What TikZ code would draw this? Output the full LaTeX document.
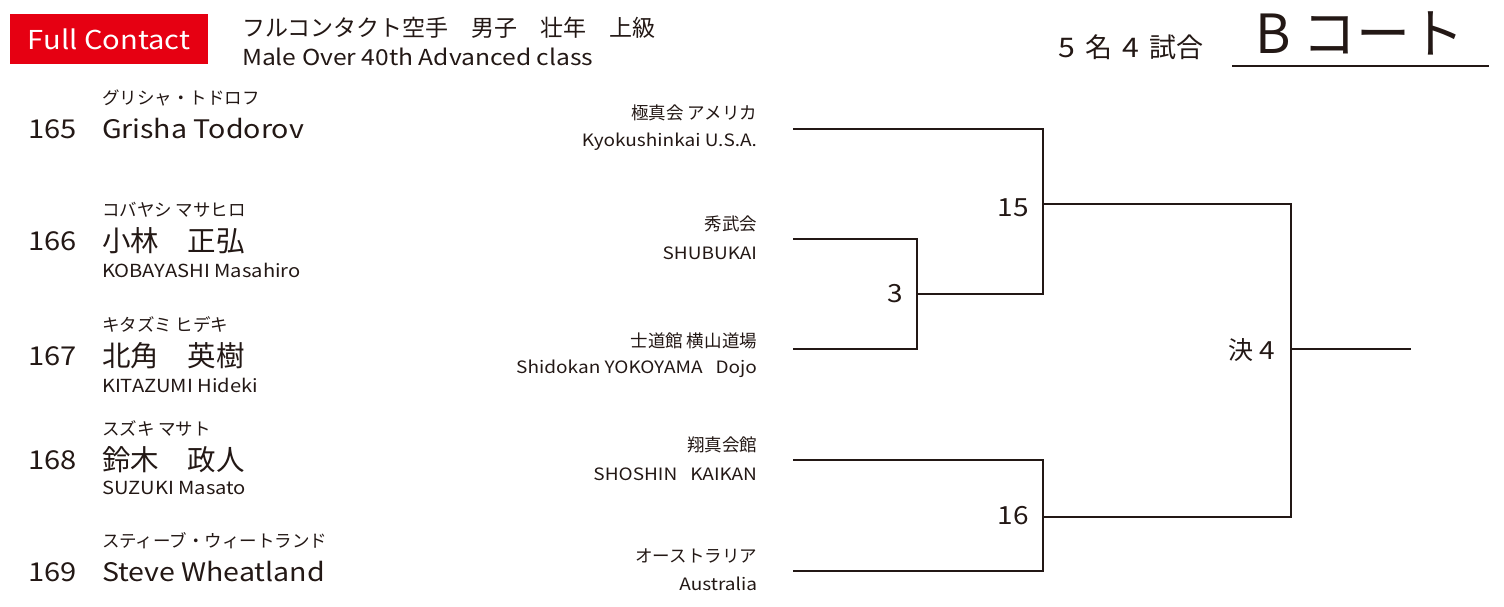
\documentclass[tikz,border=0pt]{standalone}
\usepackage{fontspec}
\setmainfont{Noto Sans CJK JP}
\newfontfamily\lat[FakeStretch=1.12]{Noto Sans CJK JP}
\definecolor{ink}{HTML}{231815}
\definecolor{jred}{HTML}{E60012}
\newcommand{\fs}[1]{\fontsize{#1}{#1}\selectfont}
\begin{document}
\begin{tikzpicture}[x=1pt,y=-1pt,
  tx/.style={inner sep=0pt, outer sep=0pt, text=ink},
  kana/.style={tx, anchor=west, font=\fs{17.5}},
  num/.style={tx, anchor=west, font=\lat\fs{26}},
  jname/.style={tx, anchor=west, font=\fs{28.5}},
  ename/.style={tx, anchor=west, font=\lat\fs{25.5}},
  roma/.style={tx, anchor=west, font=\lat\fs{18}},
  clubj/.style={tx, anchor=east, font=\fs{17.5}},
  cluben/.style={tx, anchor=east, font=\lat\fs{17}},
  mno/.style={tx, anchor=east, font=\lat\fs{25}},
  br/.style={draw=ink, line width=2pt, line join=miter}]
\useasboundingbox (0,0) rectangle (1504,607);
% header
\node[fill=jred, inner sep=0pt, minimum width=198pt, minimum height=50pt, anchor=north west] (fcbox) at (10,14) {};
\node[inner sep=0pt, text=white, font=\lat\fs{26}] (fc) at (fcbox.center) {Full Contact};
\node[tx, anchor=west, font=\fs{23}] (titlej) at (242,28) {フルコンタクト空手　男子　壮年　上級};
\node[tx, anchor=west, font=\lat\fs{22}] (titlee) at (242,57) {Male Over 40th Advanced class};
\node[tx, anchor=east, font=\fs{27}] (count) at (1203,47) {{\lat 5}\hspace{10pt}名\hspace{10pt}{\lat 4}\hspace{10pt}試合};
\node[tx, anchor=west, font=\fs{54}] (court) at (1255,33) {B コート};
\coordinate (ulA) at (1232,66);
\coordinate (ulB) at (1489,66);
\draw[draw=ink, line width=2pt] (ulA) -- (ulB);
% entrants
\node[kana] (k1) at (102,98) {グリシャ・トドロフ};
\node[num] (n1) at (28,129) {165};
\node[ename] (p1) at (102,129) {Grisha Todorov};

\node[kana] (k2) at (102,210) {コバヤシ マサヒロ};
\node[num] (n2) at (28,241) {166};
\node[jname] (p2) at (102,241) {小林　正弘};
\node[roma] (r2) at (102,270) {KOBAYASHI Masahiro};

\node[kana] (k3) at (102,325) {キタズミ ヒデキ};
\node[num] (n3) at (28,356) {167};
\node[jname] (p3) at (102,356) {北角　英樹};
\node[roma] (r3) at (102,385) {KITAZUMI Hideki};

\node[kana] (k4) at (102,428) {スズキ マサト};
\node[num] (n4) at (28,460) {168};
\node[jname] (p4) at (102,460) {鈴木　政人};
\node[roma] (r4) at (102,488) {SUZUKI Masato};

\node[kana] (k5) at (102,541) {スティーブ・ウィートランド};
\node[num] (n5) at (28,572) {169};
\node[ename] (p5) at (102,572) {Steve Wheatland};
% clubs
\node[clubj] (c1j) at (757,113) {極真会 アメリカ};
\node[cluben] (c1e) at (757,142) {Kyokushinkai U.S.A.};
\node[clubj] (c2j) at (757,224) {秀武会};
\node[cluben] (c2e) at (757,253) {SHUBUKAI};
\node[clubj] (c3j) at (757,341) {士道館 横山道場};
\node[cluben] (c3e) at (757,369) {Shidokan YOKOYAMA\hspace{13pt}Dojo};
\node[clubj] (c4j) at (757,445) {翔真会館};
\node[cluben] (c4e) at (757,474) {SHOSHIN\hspace{13pt}KAIKAN};
\node[clubj] (c5j) at (757,556) {オーストラリア};
\node[cluben] (c5e) at (757,584) {Australia};
% bracket
\coordinate (e1) at (793,129);
\coordinate (e2) at (793,239);
\coordinate (e3) at (793,349);
\coordinate (e4) at (793,460);
\coordinate (e5) at (793,571);
\coordinate (m3) at (917,294);
\coordinate (m15) at (1043,204);
\coordinate (m16) at (1043,517);
\coordinate (fin) at (1291,349);
\coordinate (win) at (1411,349);
\draw[br] (e2) -| (m3);
\draw[br] (e3) -| (m3);
\draw[br] (e1) -| (m15);
\draw[br] (m3) -| (m15);
\draw[br] (e4) -| (m16);
\draw[br] (e5) -| (m16);
\draw[br] (m15) -| (fin);
\draw[br] (m16) -| (fin);
\draw[br] (fin) -- (win);
% match numbers
\node[mno] (l3) at (903,294) {3};
\node[mno] (l15) at (1029,208) {15};
\node[mno] (l16) at (1029,516) {16};
\node[tx, anchor=east, font=\fs{25}] (l4) at (1275,350) {決 {\lat 4}};
\end{tikzpicture}
\end{document}
